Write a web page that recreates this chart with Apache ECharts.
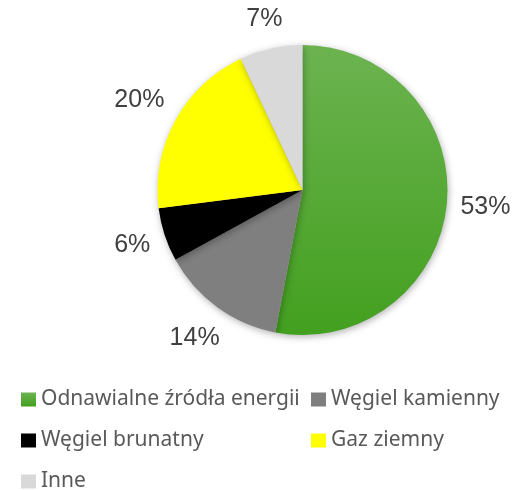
<!DOCTYPE html>
<html><head><meta charset="utf-8">
<script src="https://cdn.jsdelivr.net/npm/echarts@6/dist/echarts.min.js"></script>
<style>html,body{margin:0;padding:0;background:#fff}#c{width:515px;height:490px}</style>
</head><body><div id="c"></div>
<script>
const categories = ['Odnawialne źródła energii', 'Węgiel kamienny', 'Węgiel brunatny', 'Gaz ziemny', 'Inne'];
const values = [53, 14, 6, 20, 7];
const colors = [null, '#7f7f7f', '#000000', '#ffff00', '#d9d9d9'];

const CX = 302.5, CY = 190, R = 145, GAP = 12.5;
const total = values.reduce((a, b) => a + b, 0);
const midAngles = [];
{ let acc = 0; values.forEach(v => { midAngles.push((acc + v / 2) / total * 2 * Math.PI); acc += v; }); }

const greenGrad = new echarts.graphic.LinearGradient(0, 0, 0, 1, [
  {offset: 0, color: '#6cb350'}, {offset: 1, color: '#43a01f'}
]);
const data = categories.map((n, i) => ({name: n, value: values[i], itemStyle: {color: i === 0 ? greenGrad : colors[i]}}));
const chart = echarts.init(document.getElementById('c'), null, {renderer: 'canvas'});
const legendText = {fontFamily: 'Noto Sans', fontSize: 21, color: '#595959'};
const legendPos = [[21, 389], [311, 389], [21, 430], [311, 430], [21, 471]];
const legends = categories.map((n, i) => ({
  left: legendPos[i][0], top: legendPos[i][1], padding: 0, itemWidth: 15, itemHeight: 14, itemGap: 0,
  icon: 'rect', textStyle: legendText, data: [n]
}));
chart.setOption({
  animation: false,
  legend: legends,
  series: [
    {type: 'pie', center: [CX, CY], radius: [0, R], startAngle: 90, clockwise: true,
     itemStyle: {shadowBlur: 7, shadowColor: 'rgba(0,0,0,0.3)', shadowOffsetX: 1, shadowOffsetY: 2},
     label: {show: true, position: 'inside', formatter: '{c}%', fontFamily: 'Liberation Sans', fontSize: 25, color: '#404040'},
     labelLine: {show: false},
     labelLayout: function (p) {
       const a = midAngles[p.dataIndex];
       const ux = Math.sin(a), uy = -Math.cos(a);
       const w = p.labelRect.width, h = p.labelRect.height + 3;
       const t = Math.abs(ux) * w / 2 + Math.abs(uy) * h / 2;
       const d = R + GAP + t;
       return {x: CX + ux * d, y: CY + uy * d, align: 'center', verticalAlign: 'middle'};
     },
     data: data}
  ]
});
</script></body></html>
